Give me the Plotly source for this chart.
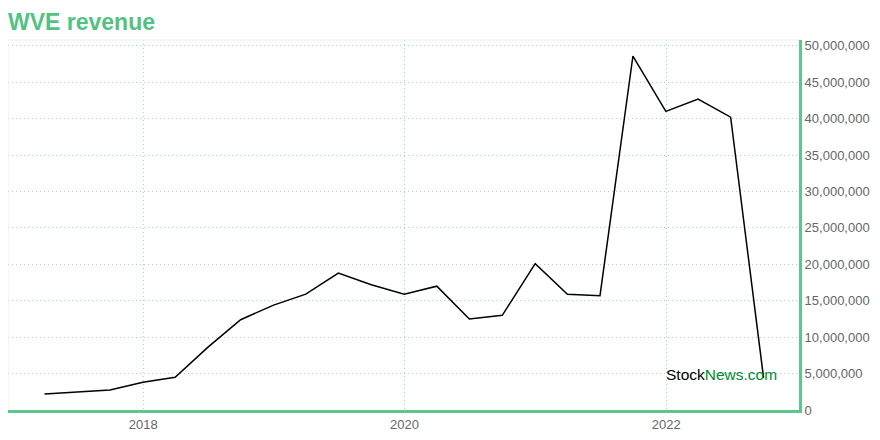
import plotly.graph_objects as go

dates = ["2017-03-31", "2017-09-30", "2017-12-31", "2018-03-31", "2018-06-30",
         "2018-09-30", "2018-12-31", "2019-03-31", "2019-06-30", "2019-09-30",
         "2019-12-31", "2020-03-31", "2020-06-30", "2020-09-30", "2020-12-31",
         "2021-03-31", "2021-06-30", "2021-09-30", "2021-12-31", "2022-03-31",
         "2022-06-30", "2022-09-30"]
revenue = [2.2e6, 2.75e6, 3.8e6, 4.5e6, 8.6e6,
           12.4e6, 14.4e6, 15.9e6, 18.8e6, 17.2e6,
           15.9e6, 17.0e6, 12.5e6, 13.0e6, 20.1e6,
           15.9e6, 15.7e6, 48.6e6, 41.0e6, 42.7e6,
           40.2e6, 4.4e6]
x_tick_vals = ["2018-01-01", "2020-01-01", "2022-01-01"]
x_tick_text = ["2018", "2020", "2022"]
y_tick_vals = [0, 5e6, 10e6, 15e6, 20e6, 25e6, 30e6, 35e6, 40e6, 45e6, 50e6]

title_text = "WVE revenue"
green = "#5cc68c"
grid = "#9adfb6"
FONT = "Liberation Sans, Arial, sans-serif"

fig = go.Figure()
fig.add_trace(go.Scatter(x=dates, y=revenue, mode="lines",
                         line=dict(color="#000000", width=1.5),
                         hoverinfo="x+y", showlegend=False))

fig.update_layout(
    width=880, height=440,
    margin=dict(l=0, r=89, t=32, b=38),
    paper_bgcolor="white", plot_bgcolor="white",
    font=dict(family=FONT, size=13, color="#666666"),
    title=dict(text="<b>" + title_text + "</b>", x=0, xanchor="left",
               xref="container", yref="container", y=1 - 14/440, yanchor="middle",
               font=dict(size=23, color="#52c283", family=FONT)),
    xaxis=dict(type="date", range=["2016-12-19", "2023-01-07"],
               tickvals=x_tick_vals, ticktext=x_tick_text,
               showgrid=True, gridcolor=grid, griddash="1px,3px", gridwidth=1,
               showline=True, linecolor=green, linewidth=3,
               ticks="", zeroline=False, tickfont=dict(size=13, color="#666666")),
    yaxis=dict(side="right", range=[0, 50.8e6], tickformat=",d",
               tickvals=y_tick_vals,
               showgrid=True, gridcolor=grid, griddash="1px,3px", gridwidth=1,
               showline=True, linecolor=green, linewidth=3,
               ticks="", zeroline=False, tickfont=dict(size=13, color="#666666")),
    shapes=[
        dict(type="line", xref="paper", yref="paper", x0=0, x1=1, y0=1, y1=1,
             line=dict(color="#eeeeee", width=1)),
        dict(type="line", xref="paper", yref="paper", x0=0, x1=0, y0=0, y1=1,
             line=dict(color="#eeeeee", width=1)),
    ],
    annotations=[
        dict(text="Stock<span style='color:#008a2e'>News.com</span>",
             xref="paper", yref="paper", x=(664 - 8) / 791, y=(410 - 374) / 370,
             xanchor="left", yanchor="middle", showarrow=False,
             font=dict(size=15.5, color="#000000", family=FONT)),
    ],
)

fig.write_html("out.html")
